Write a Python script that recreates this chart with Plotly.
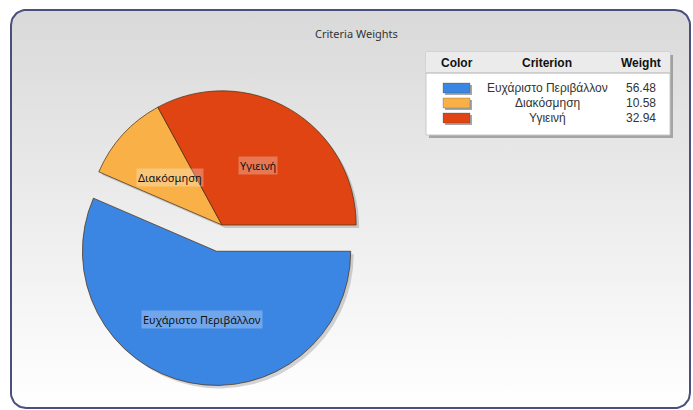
import numpy as np
import plotly.graph_objects as go

# ---- data ----
criteria = ["Ευχάριστο Περιβάλλον", "Διακόσμηση", "Υγιεινή"]
weights = [56.48, 10.58, 32.94]
slice_colors = ["#3b86e2", "#f9b147", "#df4412"]
pulls = [0.2, 0, 0]
chart_title = "Criteria Weights"
table_header = ["Color", "Criterion", "Weight"]

W, H = 693, 410
dom_x = [61 / W, 383 / W]
dom_y = [1 - 386 / H, 1 - 64 / H]

fig = go.Figure()


def rounded_rect(x0, y0, x1, y1, r, n=14):
    pts = []
    corners = [(x1 - r, y0 + r, -90, 0), (x1 - r, y1 - r, 0, 90),
               (x0 + r, y1 - r, 90, 180), (x0 + r, y0 + r, 180, 270)]
    for cx, cy, a0, a1 in corners:
        for a in np.linspace(np.radians(a0), np.radians(a1), n):
            pts.append((cx + r * np.cos(a), cy + r * np.sin(a)))
    pts.append(pts[0])
    xs, ys = zip(*pts)
    return list(xs), list(ys)


# background frame with vertical gradient
fx, fy = rounded_rect(11, 10, 690, 408, 15)
fig.add_trace(go.Scatter(
    x=fx, y=fy, mode="lines", fill="toself",
    fillgradient=dict(type="vertical", start=408, stop=10,
                      colorscale=[[0, "#ffffff"], [1, "#d9d9d9"]]),
    line=dict(color="#4a4f7d", width=2),
    hoverinfo="skip", showlegend=False,
))

# soft drop shadow of the pie
sx, sy = 3 / W, 3 / H
fig.add_trace(go.Pie(
    labels=criteria, values=weights, sort=False,
    direction="clockwise", rotation=90, pull=pulls,
    marker=dict(colors=["rgba(0,0,0,0.16)"] * len(weights), line=dict(width=0)),
    textinfo="none", domain=dict(x=[dom_x[0] + sx, dom_x[1] + sx], y=[dom_y[0] - sy, dom_y[1] - sy]),
    showlegend=False, hoverinfo="skip",
))

# pie
fig.add_trace(go.Pie(
    labels=criteria, values=weights, sort=False,
    direction="clockwise", rotation=90, pull=pulls,
    marker=dict(colors=slice_colors, line=dict(color="rgba(80,50,20,0.75)", width=1)),
    textinfo="none", domain=dict(x=dom_x, y=dom_y),
    showlegend=False, hoverinfo="label+value",
))

# slice labels computed from data
cx = (dom_x[0] + dom_x[1]) / 2 * W
cy = (1 - (dom_y[0] + dom_y[1]) / 2) * H
r = min((dom_x[1] - dom_x[0]) * W, (dom_y[1] - dom_y[0]) * H) / 2 / (1 + max(pulls))
total = sum(weights)
cum = 0.0
for lab, v, p in zip(criteria, weights, pulls):
    frac = v / total
    mid = np.radians(-360 * (cum + frac / 2))
    cum += frac
    ox = cx + p * r * np.cos(mid)
    oy = cy - p * r * np.sin(mid)
    d = 0.52 * r
    fig.add_annotation(
        x=ox + d * np.cos(mid), y=oy - d * np.sin(mid), xref="x", yref="y",
        text=lab, showarrow=False,
        font=dict(family="Noto Sans", size=11, color="#111111"),
        bgcolor="rgba(255,255,255,0.28)", borderpad=1,
    )

# title
fig.add_annotation(x=356, y=33, xref="x", yref="y", text=chart_title, showarrow=False,
                   font=dict(family="Noto Sans", size=11, color="#333333"))

# legend table
shapes = [
    dict(type="rect", x0=429, y0=55, x1=673, y1=138, xref="x", yref="y",
         fillcolor="rgba(0,0,0,0.28)", line=dict(width=0), layer="above"),
    dict(type="rect", x0=426, y0=52, x1=670, y1=135, xref="x", yref="y",
         fillcolor="#ffffff", line=dict(color="#c8c8c8", width=1), layer="above"),
    dict(type="rect", x0=426, y0=52, x1=670, y1=73, xref="x", yref="y",
         fillcolor="#ebebeb", line=dict(width=0), layer="above"),
    dict(type="line", x0=426, y0=73, x1=670, y1=73, xref="x", yref="y",
         line=dict(color="#b0b0b0", width=1), layer="above"),
]
col_x = [457, 547, 641]
for hx, ht in zip(col_x, table_header):
    fig.add_annotation(x=hx, y=63, xref="x", yref="y", text="<b>" + ht + "</b>",
                       showarrow=False, font=dict(family="Liberation Sans", size=12, color="#111111"))
for i, (lab, v, c) in enumerate(zip(criteria, weights, slice_colors)):
    ry = 88 + 15 * i
    shapes.append(dict(type="rect", x0=445, y0=ry - 3, x1=472, y1=ry + 7, xref="x", yref="y",
                       fillcolor="rgba(0,0,0,0.35)", line=dict(width=0), layer="above"))
    shapes.append(dict(type="rect", x0=443, y0=ry - 5, x1=470, y1=ry + 5, xref="x", yref="y",
                       fillcolor=c, line=dict(color="rgba(60,60,60,0.5)", width=0.5), layer="above"))
    fig.add_annotation(x=col_x[1], y=ry, xref="x", yref="y", text=lab, showarrow=False,
                       font=dict(family="Liberation Sans", size=12, color="#333333"))
    fig.add_annotation(x=col_x[2], y=ry, xref="x", yref="y", text=f"{v:.2f}", showarrow=False,
                       font=dict(family="Liberation Sans", size=12, color="#333333"))

fig.update_layout(
    width=W, height=H, margin=dict(l=0, r=0, t=0, b=0),
    paper_bgcolor="#ffffff", plot_bgcolor="rgba(0,0,0,0)",
    xaxis=dict(range=[0, W], visible=False, fixedrange=True),
    yaxis=dict(range=[H, 0], visible=False, fixedrange=True),
    shapes=shapes,
)

fig.write_html("out.html", config={"displayModeBar": False},
               post_script="document.body.style.margin='0';document.body.style.overflow='hidden';")
